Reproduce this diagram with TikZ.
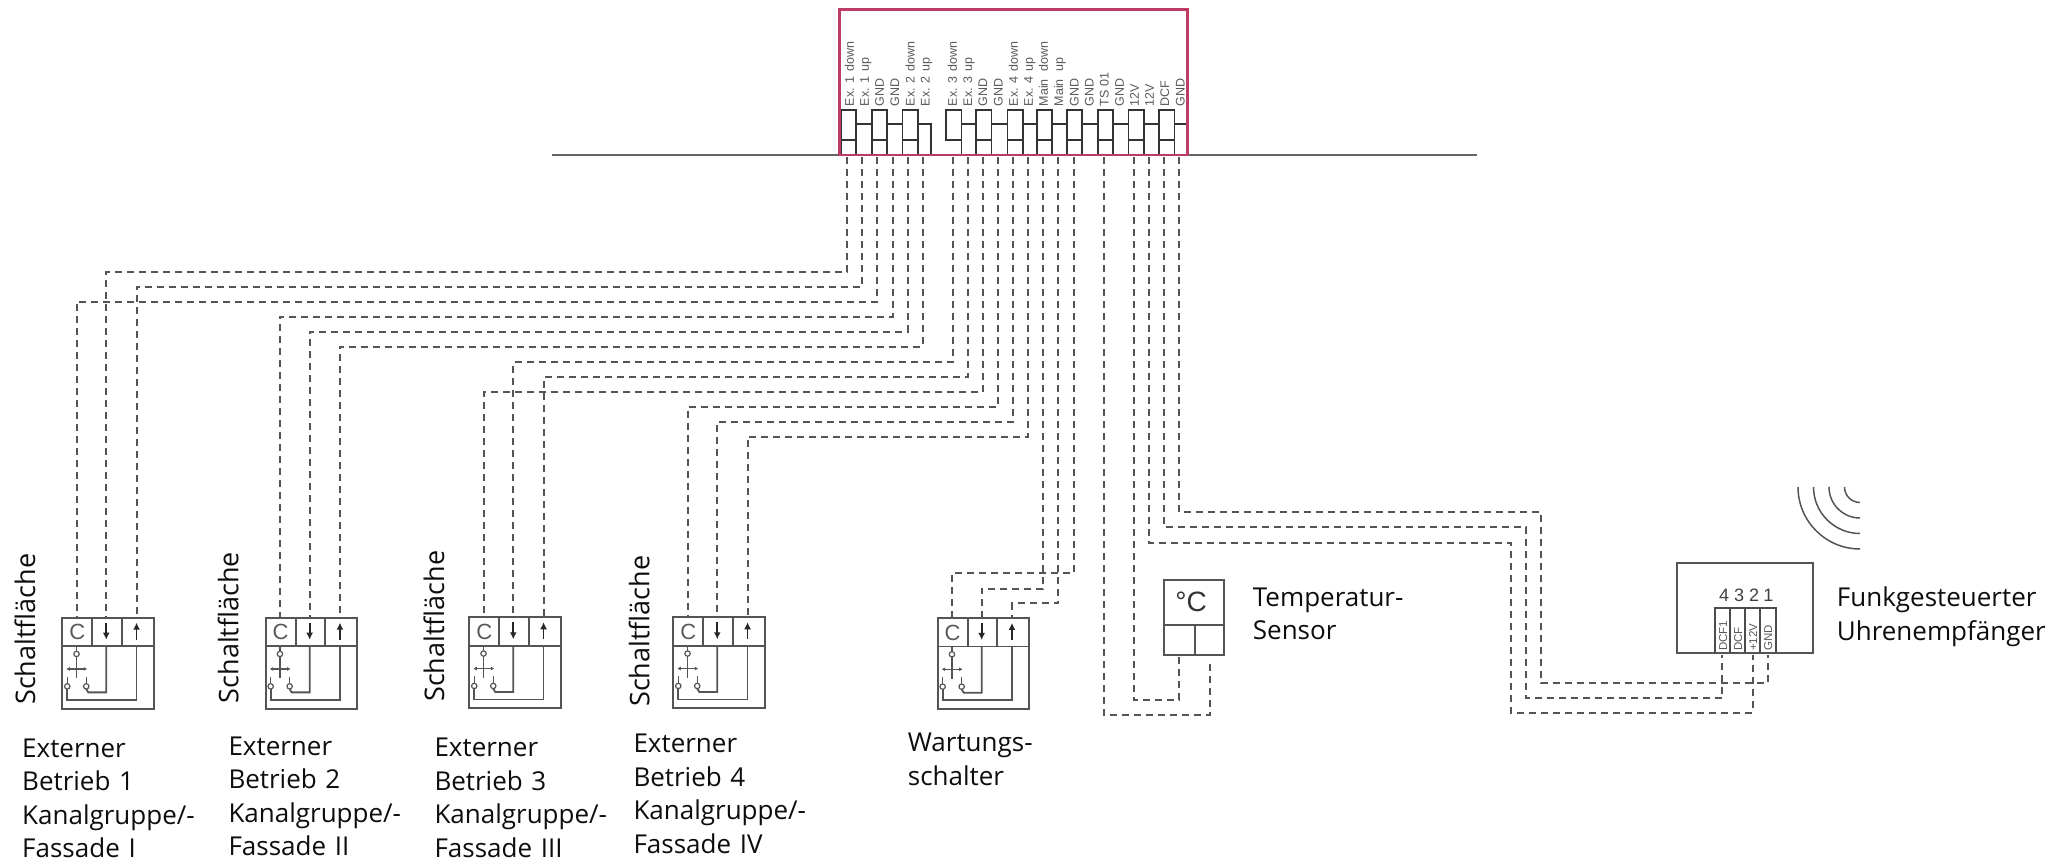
\documentclass[tikz,border=0pt]{standalone}
\usepackage{fontspec}
\setmainfont{Open Sans}
\newfontfamily\klemmfont{Liberation Sans}
\usetikzlibrary{arrows.meta}
\definecolor{panelrot}{RGB}{190,60,100}
\definecolor{liniegrau}{RGB}{85,85,85}
\tikzset{
  wire/.style={draw=liniegrau,line width=1.9pt,dash pattern=on 7pt off 5pt},
  kasten/.style={draw=liniegrau,line width=2.1pt,inner sep=0pt},
  innen/.style={draw=liniegrau,line width=1.8pt},
  term/.style={draw=black!80,line width=1.6pt},
  txt/.style={anchor=base west,inner sep=0pt,text width=250pt,align=left,text=black!95,font=\fontsize{26}{33.5}\selectfont},
  schalt/.style={anchor=base west,inner sep=0pt,rotate=90,text=black!95,font=\fontsize{27}{30}\selectfont},
  klemme/.style={anchor=base west,inner sep=0pt,rotate=90,text=black!65,font=\klemmfont\fontsize{12.5}{14}\selectfont},
}
\begin{document}
\begin{tikzpicture}[x=1pt,y=-1pt]
\useasboundingbox (0,0) rectangle (2072,864);
\def\tw{15.5}
% baseline and terminal strip
\draw[line width=2.6pt,draw=black!60] (552,155) -- (1477,155);
\foreach \x in {840.7,871.7,902.3,976,1007.3,1036.7,1066.7,1097.7,1128.3,1159}
  \draw[term] (\x,110) rectangle ++(\tw,45) (\x,140) -- ++(\tw,0);
\draw[term] (946,110) rectangle ++(\tw,30) (946+\tw,140) -- (946+\tw,155);
\foreach \x/\y in {856.2/871.7,887.2/902.3,961.5/976,991.5/1007.3,1022.8/1036.7,1052.2/1066.7,1082.2/1097.7,1113.2/1128.3,1143.8/1159}
  \draw[term] (\x,124.3) -- (\y,124.3);
\draw[term] (917.8,124.3) -- (931,124.3) -- (931,155);
\draw[term] (1174.5,124.3) -- (1187,124.3);
\node[draw=panelrot,line width=2.6pt,inner sep=0pt,minimum width=348.2pt,minimum height=145.7pt] (panel) at (1013.6,82.2) {};
% terminal labels
\foreach \i/\x/\a/\b in {1/849.3/Ex. 1/down,2/864.3/Ex. 1/up,3/879.3/GND/,4/894.7/GND/,5/910/Ex. 2/down,6/925/Ex. 2/up,
  7/952.3/Ex. 3/down,8/967.7/Ex. 3/up,9/982.7/GND/,10/998/GND/,11/1013.3/Ex. 4/down,12/1028.3/Ex. 4/up,13/1043.3/Main/down,14/1058.7/Main/up,
  15/1074/GND/,16/1089/GND/,17/1104/TS 01/,18/1119.3/GND/,19/1134.3/12V/,20/1149.3/12V/,21/1164.7/DCF/,22/1180/GND/}
  \node[klemme] (lab\i) at (\x+4.5,106.5) {\makebox[35pt][l]{\a}\b};
\foreach \i/\x in {1/847.3,2/862.3,3/877.3,4/892.7,5/907.7,6/922.7,7/952.7,8/967.7,9/983,10/998,11/1013,12/1028.3,13/1043.3,14/1058.3,15/1073.7,17/1103.7,19/1134,20/1149,21/1164,22/1179.3}
  \coordinate (t\i) at (\x,157);
% switch boxes
\foreach \i/\x/\y in {1/62.3/617.7,2/265.7/617.7,3/469.3/617.3,4/673.3/617.3,5/937.7/618}{
  \node[kasten,minimum width=91.5pt,minimum height=91pt] (b\i) at (\x+45.75,\y+45.5) {};
  \begin{scope}[shift={(b\i.north west)}]
    \coordinate (b\i c) at (15.3,0);
    \coordinate (b\i d) at (45,0);
    \coordinate (b\i u) at (75.3,0);
    \draw[innen] (0,29.5) -- (91.5,29.5) (31,0) -- (31,29.5) (60.4,0) -- (60.4,29.5);
    \node[inner sep=0pt,text=black!65,font=\klemmfont\fontsize{22}{22}\selectfont] (b\i t) at (16,15.5) {C};
    \draw[line width=1.7pt,draw=black!85,-{Latex[length=7pt,width=7pt]}] (45,6) -- (45,23);
    \draw[line width=1.7pt,draw=black!85,-{Latex[length=7pt,width=7pt]}] (75.3,23) -- (75.3,6);
    \draw[innen] (45,29.5) -- (45,75.7) -- (27,75.7) -- (25,72.4);
    \draw[innen] (75.3,29.5) -- (75.3,83.3) -- (6,83.3) -- (6,72.4);
    \draw[innen,line width=1.3pt] (15.3,29.5) -- (15.3,34.6) (15.3,40) -- (15.3,61.7) (6,67) -- (6,60) (25,67) -- (25,60);
    \draw[innen,line width=1.3pt,{Latex[length=3.5pt,width=4pt]}-{Latex[length=3.5pt,width=4pt]}] (5,52.3) -- (26,52.3);
    \draw[innen,line width=1.2pt] (15.3,37.3) circle (2.7pt) (6,69.7) circle (2.7pt) (25,69.7) circle (2.7pt);
  \end{scope}
}
% cables
\foreach \a/\b/\l in {t1/b1d/271.7,t2/b1u/286.7,t3/b1c/301.7,t4/b2c/316.7,t5/b2d/331.7,t6/b2u/346.7,
  t7/b3d/362,t8/b3u/377,t9/b3c/392.3,t10/b4c/407,t11/b4d/422,t12/b4u/437,t15/b5c/573.3,t13/b5d/589,t14/b5u/603.3}
  \draw[wire] (\a) -- (\a |- 0,\l) -| (\b);
% sensor
\node[kasten,minimum width=60.3pt,minimum height=75.3pt] (sensor) at (1194.2,617.6) {};
\draw[innen] (1164,624.7) -- (1224.3,624.7) (1194.7,624.7) -- (1194.7,655.3);
\node[inner sep=0pt,text=black!80,font=\klemmfont\fontsize{28}{28}\selectfont] (grad) at (1191,602) {°C};
\coordinate (s1) at (1179.3,655.3);
\coordinate (s2) at (1210,660.7);
\draw[wire] (t19) -- (t19 |- 0,700) -| (s1);
\draw[wire] (t17) -- (t17 |- 0,715) -| (s2);
% receiver
\node[kasten,minimum width=136pt,minimum height=90pt] (empf) at (1744.7,608.3) {};
\draw[term,draw=black!70] (1715,653.3) -- (1715,607.7) -- (1775.7,607.7) -- (1775.7,653.3) (1730,607.7) -- (1730,653.3) (1745,607.7) -- (1745,653.3) (1760,607.7) -- (1760,653.3);
\foreach \i/\x/\t in {1/1727/DCF1,2/1742/DCF,3/1757/+12V,4/1772/GND}
  \node[klemme,font=\klemmfont\fontsize{11.5}{14}\selectfont] (pin\i) at (\x,651) {\t};
\foreach \n/\x in {4/1724,3/1739,2/1754,1/1768.3}
  \node[inner sep=0pt,text=black!75,font=\klemmfont\fontsize{18}{18}\selectfont] (nr\n) at (\x,595) {\n};
\coordinate (e1) at (1722.3,654.5);
\coordinate (e2) at (1752.7,654.5);
\coordinate (e3) at (1767.7,654.5);
\draw[wire] (t22) -- (t22 |- 0,512.3) -- (1541,512.3) -- (1541,683.3) -| (e3);
\draw[wire] (t21) -- (t21 |- 0,527.3) -- (1526,527.3) -- (1526,698.3) -| (e1);
\draw[wire] (t20) -- (t20 |- 0,542.7) -- (1511,542.7) -- (1511,712.7) -| (e2);
% radio waves
\foreach \r in {15.5,31,46.5,62}
  \draw[innen,line width=1.5pt] (1860,487+\r) arc [start angle=270,end angle=180,radius=\r pt];
% texts
\node[schalt] (s1t) at (35,705) {Schaltfläche};
\node[schalt] (s2t) at (238.3,703.3) {Schaltfläche};
\node[schalt] (s3t) at (444,702) {Schaltfläche};
\node[schalt] (s4t) at (649.3,707) {Schaltfläche};
\node[txt] (n1) at (22,757) {Externer\\Betrieb 1\\Kanalgruppe/-\\Fassade I};
\node[txt] (n2) at (228.3,755) {Externer\\Betrieb 2\\Kanalgruppe/-\\Fassade II};
\node[txt] (n3) at (434.3,756.7) {Externer\\Betrieb 3\\Kanalgruppe/-\\Fassade III};
\node[txt] (n4) at (633.3,752.7) {Externer\\Betrieb 4\\Kanalgruppe/-\\Fassade IV};
\node[txt] (n5) at (907.7,751.7) {Wartungs-\\schalter};
\node[txt] (n6) at (1252.7,606) {Temperatur-\\Sensor};
\node[txt] (n7) at (1836.7,606.7) {Funkgesteuerter\\Uhrenempfänger};
\end{tikzpicture}
\end{document}
